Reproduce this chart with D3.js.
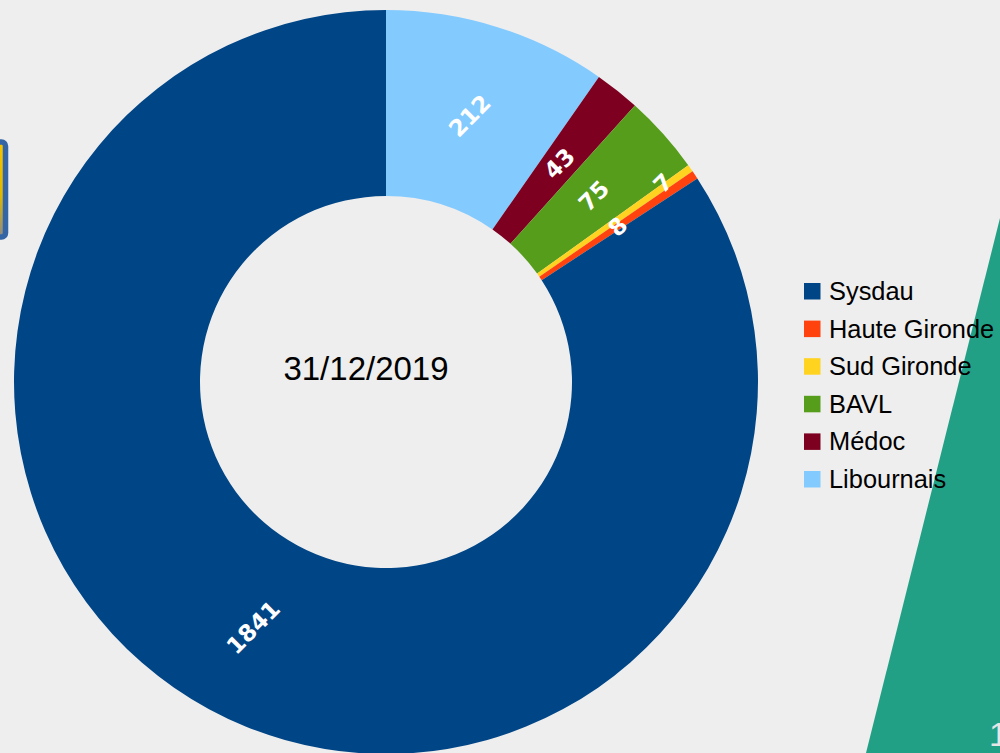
<!DOCTYPE html>
<html>
<head>
<meta charset="utf-8">
<script src="https://cdn.jsdelivr.net/npm/d3@7/dist/d3.min.js"></script>
<style>
html,body{margin:0;padding:0;background:#eeeeee;overflow:hidden;}
svg{display:block;}
</style>
</head>
<body>
<script>
// Data (legend order)
const categories = ["Sysdau", "Haute Gironde", "Sud Gironde", "BAVL", "Médoc", "Libournais"];
const values = [1841, 8, 7, 75, 43, 212];
const colors = ["#004586", "#ff420e", "#ffd320", "#579d1c", "#7e0021", "#83caff"];
const centerLabel = "31/12/2019";

const W = 1000, H = 753;
const svg = d3.select("body").append("svg").attr("width", W).attr("height", H);

svg.append("rect").attr("width", W).attr("height", H).attr("fill", "#eeeeee");

// background decorations
svg.append("polygon")
  .attr("points", [[1000, 218], [1000, 753], [866, 753]].map(p => p.join(",")).join(" "))
  .attr("fill", "#21a086");

const grad = svg.append("defs").append("linearGradient")
  .attr("id", "yg").attr("x1", 0).attr("y1", 0).attr("x2", 0).attr("y2", 1);
grad.append("stop").attr("offset", "0%").attr("stop-color", "#f5c400");
grad.append("stop").attr("offset", "55%").attr("stop-color", "#e0b800");
grad.append("stop").attr("offset", "100%").attr("stop-color", "#8a8a8a");
svg.append("rect")
  .attr("x", -60).attr("y", 142).attr("width", 65.5).attr("height", 95)
  .attr("rx", 4).attr("fill", "url(#yg)")
  .attr("stroke", "#3466a5").attr("stroke-width", 5.5);

svg.append("text").attr("x", 989).attr("y", 746)
  .attr("font-family", "Liberation Sans, Arial, sans-serif")
  .attr("font-size", 34).attr("fill", "#e6e6e6").text("1");

// donut
const cx = 386, cy = 382, rOuter = 372, rInner = 186;
const g = svg.append("g").attr("transform", `translate(${cx},${cy})`);

const items = categories.map((c, i) => ({ name: c, value: values[i], color: colors[i], idx: i }));
const clockwise = items.slice().reverse();

const pie = d3.pie().value(d => d.value).sort(null).startAngle(0).endAngle(2 * Math.PI);
const arcs = pie(clockwise);
const arc = d3.arc().innerRadius(rInner).outerRadius(rOuter);

g.selectAll("path.slice").data(arcs).enter().append("path")
  .attr("class", "slice")
  .attr("d", arc)
  .attr("fill", d => d.data.color);

// labels, placed in legend order with a simple collision push-out
const rMid = (rInner + rOuter) / 2;
const placed = [];
const byLegend = arcs.slice().sort((a, b) => a.data.idx - b.data.idx);
byLegend.forEach(a => {
  const ang = (a.startAngle + a.endAngle) / 2;
  let r = rMid;
  let x = r * Math.sin(ang), y = -r * Math.cos(ang);
  const clash = placed.some(p => Math.hypot(p.x - x, p.y - y) < 30);
  if (clash) {
    r = rOuter - 31;
    const ang2 = ang - 0.01;
    x = r * Math.sin(ang2); y = -r * Math.cos(ang2);
  }
  placed.push({ x, y, d: a });
});

g.selectAll("text.lbl").data(placed).enter().append("text")
  .attr("class", "lbl")
  .attr("transform", p => `translate(${p.x},${p.y}) rotate(-45)`)
  .attr("text-anchor", "middle")
  .attr("dominant-baseline", "central")
  .attr("font-family", "DejaVu Sans, sans-serif")
  .attr("font-weight", "bold")
  .attr("font-size", 23)
  .attr("fill", "#ffffff")
  .text(p => p.d.data.value);

// center label
svg.append("text")
  .attr("x", 366).attr("y", 380)
  .attr("text-anchor", "middle")
  .attr("font-family", "Liberation Sans, Arial, sans-serif")
  .attr("font-size", 33)
  .attr("fill", "#000000")
  .text(centerLabel);

// legend
const lg = svg.append("g").attr("transform", "translate(804,283)");
const row = lg.selectAll("g").data(items).enter().append("g")
  .attr("transform", (d, i) => `translate(0,${i * 37.6})`);
row.append("rect").attr("width", 16.5).attr("height", 16.5).attr("fill", d => d.color);
row.append("text")
  .attr("x", 25).attr("y", 17)
  .attr("font-family", "Liberation Sans, Arial, sans-serif")
  .attr("font-size", 25.4)
  .attr("fill", "#000000")
  .text(d => d.name);
</script>
</body>
</html>
